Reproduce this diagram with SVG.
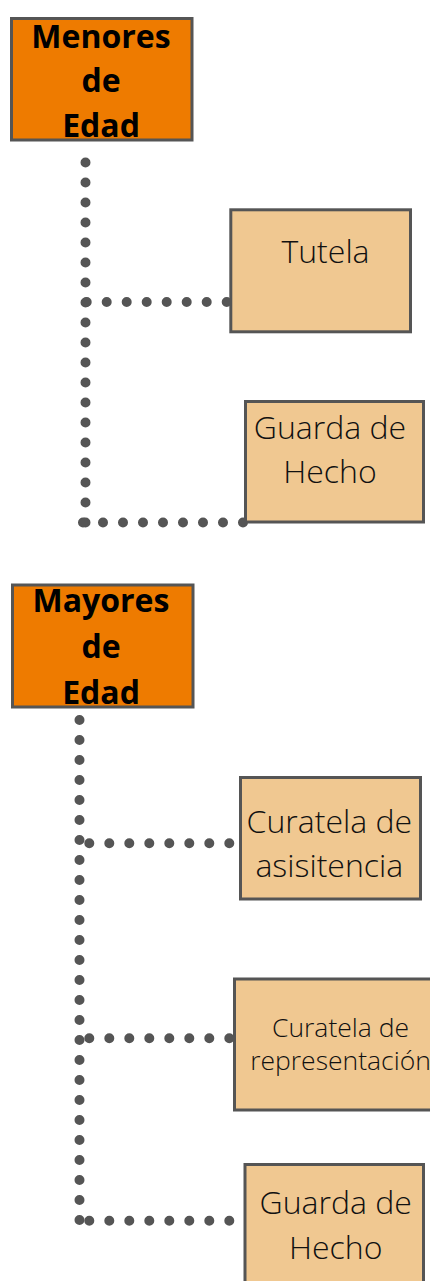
<svg xmlns="http://www.w3.org/2000/svg" width="430" height="1281" viewBox="0 0 430 1281">
<style>
.main rect{fill:#EE7B00;stroke:#555555;stroke-width:3}
.sub rect{fill:#F0C891;stroke:#555555;stroke-width:3}
.main text{font-family:"Open Sans","Liberation Sans",sans-serif;font-weight:700;font-size:32px;fill:#000;text-anchor:middle}
.sub text{font-family:"Open Sans","Liberation Sans",sans-serif;font-weight:300;font-size:32px;fill:#111;text-anchor:middle}
#connectors path{stroke:#555555;stroke-width:10;stroke-linecap:round;stroke-dasharray:0 20;fill:none}
</style>
<rect width="430" height="1281" fill="#ffffff"/>
<g id="connectors">
<path d="M85.5 162.5V523"/>
<path d="M86.7 302H227.2"/>
<path d="M83 522.5H243.5"/>
<path d="M79.5 720V1220.5"/>
<path d="M89.3 843.3H229.8"/>
<path d="M89.3 1038.3H229.8"/>
<path d="M89.3 1220.7H229.8"/>
</g>
<g id="menores" class="main">
<rect x="11.5" y="18.5" width="180.5" height="121.5"/>
<text x="101" y="48.3">Menores</text>
<text x="101" y="92">de</text>
<text x="101" y="137">Edad</text>
</g>
<g id="tutela" class="sub">
<rect x="230.8" y="209.8" width="179.7" height="122"/>
<text x="325.5" y="262.7">Tutela</text>
</g>
<g id="guarda1" class="sub">
<rect x="245.5" y="401.5" width="178" height="120.5"/>
<text x="330" y="439.3">Guarda de</text>
<text x="330" y="483.3">Hecho</text>
</g>
<g id="mayores" class="main">
<rect x="12.5" y="585" width="180.5" height="122"/>
<text x="101" y="612">Mayores</text>
<text x="101" y="658">de</text>
<text x="101" y="704">Edad</text>
</g>
<g id="curatela-asistencia" class="sub">
<rect x="240.5" y="777.5" width="180" height="121.5"/>
<text x="329.3" y="833.3">Curatela de</text>
<text x="329.3" y="877.3">asisitencia</text>
</g>
<g id="curatela-representacion" class="sub">
<rect x="234.5" y="979" width="205" height="131"/>
<text x="340.5" y="1036.7" style="font-size:26.5px">Curatela de</text>
<text x="340.5" y="1070" style="font-size:26.5px">representación</text>
</g>
<g id="guarda2" class="sub">
<rect x="245" y="1164.5" width="178.5" height="130"/>
<text x="335.7" y="1214">Guarda de</text>
<text x="335.7" y="1259.3">Hecho</text>
</g>
</svg>
